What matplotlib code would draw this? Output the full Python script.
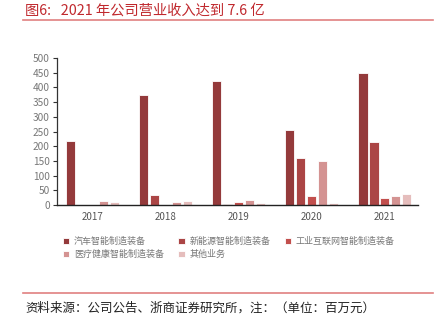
import matplotlib
matplotlib.use("Agg")
import matplotlib.pyplot as plt
import numpy as np
from matplotlib.lines import Line2D

plt.rcParams['font.family'] = ['Noto Sans CJK SC', 'DejaVu Sans']

years = ["2017", "2018", "2019", "2020", "2021"]
series_names = ["汽车智能制造装备", "新能源智能制造装备", "工业互联网智能制造装备",
                "医疗健康智能制造装备", "其他业务"]
auto_equip = [218, 374, 420, 256, 450]
new_energy = [0, 36, 4, 160, 215]
industrial_net = [0, 0, 10, 32, 25]
medical = [15, 11, 17, 151, 32]
other = [11, 14, 8, 7, 39]

series = [auto_equip, new_energy, industrial_net, medical, other]
colors = ["#943a3b", "#ab4545", "#c24f4d", "#d49392", "#e5bdbc"]

fig = plt.figure(figsize=(4.44, 3.33), dpi=100)
ax = fig.add_axes([0.128, 0.384, 0.813, 0.442])

x = np.arange(len(years))
step = 0.15
width = 0.125
handles = []
for i, (vals, c, name) in enumerate(zip(series, colors, series_names)):
    h = ax.bar(x + (i - 2) * step, vals, width=width, color=c,
               edgecolor="white", linewidth=0.6, label=name)
    handles.append(h)

ax.set_xlim(-0.49, 4.45)
ax.set_ylim(0, 500)
ax.set_yticks(range(0, 501, 50))
ax.set_xticks(x)
ax.set_xticklabels(years)
ax.tick_params(axis="y", labelsize=7.3, colors="#333333", labelcolor="#777777",
               length=3, width=0.8, pad=2)
ax.tick_params(axis="x", length=0, labelsize=7, labelcolor="#555555", pad=5)
for s in ["top", "right"]:
    ax.spines[s].set_visible(False)
ax.spines["left"].set_color("#333333")
ax.spines["bottom"].set_color("#222222")
ax.spines["left"].set_linewidth(0.9)
ax.spines["bottom"].set_linewidth(1.0)

# legend fills column-wise, so reorder to read row by row
order = [0, 3, 1, 4, 2]
fig.legend([handles[i] for i in order], [series_names[i] for i in order],
           loc="upper left", bbox_to_anchor=(0.128, 0.308), ncol=3,
           frameon=False, fontsize=6.5, handlelength=0.7, handleheight=0.7,
           handletextpad=0.5, columnspacing=1.6, labelspacing=0.45,
           labelcolor="#777777", borderpad=0.2)

# title and rules
fig.text(0.057, 0.968, "图6:   2021 年公司营业收入达到 7.6 亿", color="#c0282d",
         fontsize=10.3, va="center", ha="left")
fig.add_artist(Line2D([0.052, 0.975], [0.94, 0.94], color="#e08080", linewidth=1.2))
fig.add_artist(Line2D([0.052, 0.975], [0.12, 0.12], color="#e08080", linewidth=1.2))
fig.text(0.057, 0.075, "资料来源：公司公告、浙商证券研究所，注：（单位：百万元）",
         color="#222222", fontsize=9, va="center", ha="left")

fig.savefig("out.png", dpi=100)
